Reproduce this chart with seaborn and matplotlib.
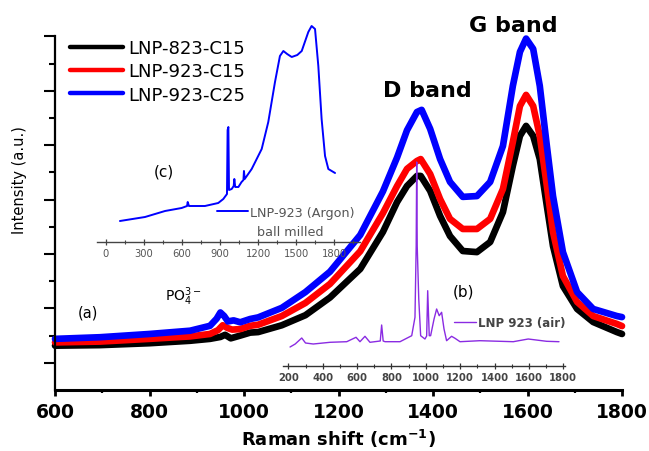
import matplotlib
matplotlib.use("Agg")
import numpy as np
import pandas as pd
import matplotlib.pyplot as plt
import seaborn as sns

# ---- main Raman spectra (a) ----
shift_823_c15 = [600, 695, 800, 886, 928, 950, 960, 972, 992, 1013, 1030, 1080, 1130, 1182,
                 1246, 1294, 1324, 1345, 1366, 1374, 1394, 1415, 1436, 1463, 1493, 1521,
                 1548, 1569, 1584, 1597, 1612, 1626, 1641, 1654, 1675, 1705, 1739, 1789, 1800]
int_823_c15 = [1.63, 1.65, 1.72, 1.81, 1.88, 1.95, 2.03, 1.90, 2.00, 2.11, 2.13, 2.38, 2.75, 3.40,
               4.45, 5.81, 6.91, 7.50, 7.87, 7.87, 7.32, 6.40, 5.66, 5.11, 5.07, 5.44,
               6.54, 8.24, 9.34, 9.71, 9.34, 8.49, 6.76, 5.29, 3.82, 2.98, 2.50, 2.13, 2.06]

shift_923_c15 = [600, 695, 800, 886, 928, 945, 955, 965, 975, 992, 1013, 1030, 1080, 1130, 1182,
                 1246, 1294, 1324, 1345, 1366, 1374, 1394, 1415, 1436, 1463, 1493, 1521,
                 1548, 1569, 1584, 1597, 1612, 1626, 1641, 1654, 1675, 1705, 1739, 1789, 1800]
int_923_c15 = [1.75, 1.78, 1.88, 1.97, 2.06, 2.20, 2.38, 2.28, 2.22, 2.24, 2.36, 2.40, 2.72, 3.20, 3.90,
               5.10, 6.50, 7.50, 8.13, 8.42, 8.49, 7.94, 7.02, 6.29, 5.92, 5.92, 6.29,
               7.39, 9.12, 10.44, 10.85, 10.44, 9.34, 7.50, 5.81, 4.19, 3.24, 2.72, 2.43, 2.35]

shift_923_c25 = [600, 695, 800, 886, 928, 942, 950, 958, 966, 978, 992, 1013, 1030, 1080, 1130, 1182,
                 1246, 1294, 1324, 1345, 1366, 1376, 1394, 1415, 1436, 1463, 1493, 1521,
                 1548, 1569, 1584, 1597, 1612, 1626, 1641, 1654, 1675, 1705, 1739, 1789, 1800]
int_923_c25 = [1.88, 1.94, 2.06, 2.18, 2.36, 2.62, 2.85, 2.72, 2.52, 2.56, 2.49, 2.61, 2.67, 3.02, 3.60, 4.35,
               5.70, 7.30, 8.55, 9.55, 10.22, 10.30, 9.60, 8.49, 7.65, 7.10, 7.13, 7.65,
               8.97, 11.18, 12.43, 12.92, 12.54, 11.18, 8.97, 7.13, 5.07, 3.60, 2.98, 2.72, 2.68]

samples = ["LNP-823-C15", "LNP-923-C15", "LNP-923-C25"]
sample_colors = ["#000000", "#ff0000", "#0000ff"]

# ---- inset (c): ball-milled sample under argon ----
argon_shift = [110, 308, 466, 597, 640, 645, 655, 781, 886, 926, 955, 960, 966, 971, 992, 1008,
               1013, 1020, 1045, 1070, 1085, 1089, 1095, 1150, 1229, 1281, 1334, 1373, 1400,
               1430, 1466, 1510, 1545, 1597, 1623, 1650, 1676, 1702, 1729, 1755, 1808]
argon_int = [21, 25, 31, 34, 36, 40, 36, 36, 39, 43, 48, 112, 115, 52, 53, 56,
             63, 55, 55, 60, 62, 71, 63, 73, 93, 120, 160, 186, 191,
             188, 185, 187, 191, 210, 216, 213, 176, 123, 86, 73, 69]
argon_ticks = [0, 300, 600, 900, 1200, 1500, 1800]

# ---- inset (b): sample annealed in air ----
air_shift = [210, 240, 278, 300, 345, 443, 540, 594, 617, 646, 675, 735, 743, 752, 763, 850,
             918, 937, 944, 947, 950, 959, 970, 995, 1005, 1011, 1020, 1028, 1048, 1063, 1078,
             1092, 1106, 1121, 1150, 1170, 1199, 1315, 1509, 1596, 1703, 1775]
air_int = [19, 22, 28, 23, 22, 23.7, 24.3, 28.7, 24.3, 29.7, 23.7, 25, 41, 25, 24.3, 24.3,
           30.3, 48.7, 120, 204, 120, 67, 30.3, 27, 30, 75.3, 30.3, 30.3, 47, 57, 50.3,
           53.7, 37, 25.3, 29.7, 27.7, 24.3, 25.3, 24.3, 27, 24.7, 24.3]
air_ticks = [200, 400, 600, 800, 1000, 1200, 1400, 1600, 1800]

sns.set_style("ticks")
plt.rcParams["font.family"] = ["DejaVu Sans"]
plt.rcParams["mathtext.fontset"] = "dejavusans"
plt.rcParams.update({
    "text.color": "black",
    "axes.labelcolor": "black",
    "axes.edgecolor": "black",
    "xtick.color": "black",
    "ytick.color": "black",
})

W, H = 649, 452
fig = plt.figure(figsize=(W / 100, H / 100), dpi=100)


def px_box(x0, y0, x1, y1):
    """Axes rectangle from pixel corners (top-left origin)."""
    return [x0 / W, 1 - y1 / H, (x1 - x0) / W, (y1 - y0) / H]


ax = fig.add_axes(px_box(55, 37.4, 622, 391))

frames = [
    pd.DataFrame({"shift": shift_823_c15, "intensity": int_823_c15, "sample": samples[0]}),
    pd.DataFrame({"shift": shift_923_c15, "intensity": int_923_c15, "sample": samples[1]}),
    pd.DataFrame({"shift": shift_923_c25, "intensity": int_923_c25, "sample": samples[2]}),
]
spectra = pd.concat(frames, ignore_index=True)

sns.lineplot(data=spectra, x="shift", y="intensity", hue="sample", hue_order=samples,
             palette=sample_colors, linewidth=4.8, estimator=None, ax=ax)
for ln in ax.get_lines():
    ln.set_clip_on(False)
    ln.set_solid_joinstyle("round")

ax.set_xlim(600, 1800)
ax.set_ylim(0, 13)
ax.set_xticks(range(600, 1801, 200))
ax.set_xticks(range(700, 1800, 200), minor=True)
ax.set_yticks(range(1, 14, 2))
ax.set_yticks(range(2, 13, 2), minor=True)
ax.set_yticklabels([])
ax.spines[["top", "right"]].set_visible(False)
ax.spines["left"].set_linewidth(1.6)
ax.spines["bottom"].set_linewidth(2.2)
ax.tick_params(axis="x", which="major", direction="out", length=4.5, width=2,
               labelsize=13.5, pad=4, colors="black")
ax.tick_params(axis="x", which="minor", direction="out", length=2.5, width=1.6)
ax.tick_params(axis="y", which="major", direction="out", length=8, width=1.5)
ax.tick_params(axis="y", which="minor", direction="out", length=4.5, width=1.5)
for lbl in ax.get_xticklabels():
    lbl.set_fontweight("bold")

ax.set_xlabel("Raman shift (cm$^{\\mathbf{-1}}$)", fontsize=13, fontweight="bold")
ax.xaxis.set_label_coords(0.5, -0.103)
ax.set_ylabel("Intensity (a.u.)", fontsize=10.5)
ax.yaxis.set_label_coords(-0.049, 0.597)

handles, labels = ax.get_legend_handles_labels()
leg = ax.legend(handles, labels, loc="upper left", bbox_to_anchor=(0.0265, 0.992),
                frameon=False, fontsize=13, borderpad=0, borderaxespad=0,
                handlelength=2.95, handletextpad=0.28, labelspacing=0.29)
for h in leg.get_lines():
    h.set_linewidth(3.2)

ax.text(1389, 11.03, "D band", fontsize=16, fontweight="bold", ha="center", va="center")
ax.text(1569, 13.42, "G band", fontsize=16, fontweight="bold", ha="center", va="center",
        clip_on=False)
ax.text(833, 3.46, "PO$_4^{3-}$", fontsize=10, ha="left", va="center")
ax.text(670, 2.87, "(a)", fontsize=10.5, ha="center", va="center")
ax.text(1463.5, 3.64, "(b)", fontsize=11, ha="center", va="center")
ax.text(831, 8.05, "(c)", fontsize=11, ha="center", va="center")

# ---- inset (c) ----
axc = fig.add_axes(px_box(97, 20, 360, 243))
axc.set_facecolor("none")
sns.lineplot(x=argon_shift, y=argon_int, color="#0000ff", linewidth=1.4,
             estimator=None, sort=False, ax=axc, label="LNP-923 (Argon)")
axc.set_xlim(-71, 2005)
axc.set_ylim(0, 223)
axc.set_xticks(argon_ticks)
axc.set_xticks(range(150, 2000, 300), minor=True)
axc.set_yticks([])
for s in ["top", "right", "left"]:
    axc.spines[s].set_visible(False)
axc.spines["bottom"].set_color("#444444")
axc.spines["bottom"].set_linewidth(1.0)
axc.tick_params(axis="x", which="major", direction="inout", length=5, width=0.9,
                color="#444444", labelsize=8, labelcolor="#555555", pad=2)
axc.tick_params(axis="x", which="minor", direction="inout", length=3, width=0.8, color="#444444")
for lbl in axc.get_xticklabels():
    lbl.set_fontstretch("condensed")
legc = axc.legend(loc="upper left", bbox_to_anchor=(0.456, 0.163), frameon=False,
                  fontsize=9.2, borderpad=0, borderaxespad=0, handlelength=2.4,
                  handletextpad=0.15, labelcolor="#555555")
axc.text(0.608, 0.045, "ball milled", transform=axc.transAxes, fontsize=9.2,
         color="#555555", ha="left", va="center")

# ---- inset (b) ----
axb = fig.add_axes(px_box(283, 150, 565, 367))
axb.set_facecolor("none")
sns.lineplot(x=air_shift, y=air_int, color="#8a2be2", linewidth=1.0,
             estimator=None, sort=False, ax=axb, label="LNP 923 (air)")
axb.set_xlim(169, 1810)
axb.set_ylim(0, 217)
axb.set_xticks(air_ticks)
axb.set_xticks(range(300, 1800, 200), minor=True)
axb.set_yticks([])
for s in ["top", "right", "left"]:
    axb.spines[s].set_visible(False)
axb.spines["bottom"].set_color("#333333")
axb.spines["bottom"].set_linewidth(1.0)
axb.tick_params(axis="x", which="major", direction="inout", length=5, width=0.9,
                color="#333333", labelsize=8, labelcolor="#444444", pad=2)
axb.tick_params(axis="x", which="minor", direction="inout", length=3, width=0.8, color="#333333")
for lbl in axb.get_xticklabels():
    lbl.set_fontweight("bold")
    lbl.set_fontstretch("condensed")
legb = axb.legend(loc="upper left", bbox_to_anchor=(0.606, 0.232), frameon=False,
                  borderpad=0, borderaxespad=0, handlelength=1.85,
                  handletextpad=0.2, labelcolor="#444444", prop={"weight": "bold", "size": 8.5})

fig.savefig("out.png", dpi=100)
